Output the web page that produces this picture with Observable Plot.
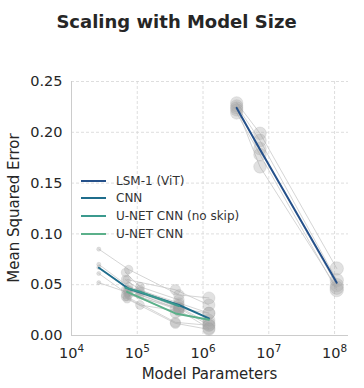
<!DOCTYPE html>
<html>
<head>
<meta charset="utf-8">
<script src="https://cdn.jsdelivr.net/npm/d3@7"></script>
<script src="https://cdn.jsdelivr.net/npm/@observablehq/plot@0.6"></script>
<style>
  body { margin: 0; background: #fff; font-family: "DejaVu Sans", sans-serif; }
  #wrap { position: relative; width: 364px; height: 388px; }
  #title { position: relative; height: 45px; }
  #title span { position: absolute; left: 0; width: 353px; top: 11px; text-align: center;
    font-weight: bold; font-size: 18px; color: #262626; line-height: normal; white-space: nowrap; }
  #legend { position: absolute; left: 81px; top: 0; }
  .row { position: absolute; left: 0; height: 16px; display: flex; align-items: center; white-space: nowrap; }
  .row svg { margin-right: 10px; }
  .row span { font-size: 12px; color: #333; line-height: 16px; }
</style>
</head>
<body>
<div id="wrap">
  <div id="title"><span>Scaling with Model Size</span></div>
  <div id="chart"></div>
  <div id="legend"></div>
</div>
<script>
// ---- data ----
const series = ["LSM-1 (ViT)", "CNN", "U-NET CNN (no skip)", "U-NET CNN"];
const colors = ["#24508a", "#1f6d8c", "#3b9a8e", "#5bb08a"];

const vitParams = [3.25e6, 7.35e6, 1.08e8];
const vitMean = [0.224, 0.183, 0.052];
const vitRuns = [
  [0.229, 0.199, 0.066],
  [0.226, 0.192, 0.0545],
  [0.222, 0.184, 0.0496],
  [0.219, 0.178, 0.0447],
  [0.224, 0.166, 0.047]
];

const cnnParams = [2.6e4, 7.4e4, 4.3e5, 1.23e6];
const cnnMean = [0.0667, 0.046, 0.030, 0.0168];
const cnnRuns = [
  [0.085, 0.065, 0.040, 0.037],
  [0.070, 0.048, 0.032, 0.022],
  [0.067, 0.045, 0.028, 0.012],
  [0.061, 0.040, 0.027, 0.010],
  [0.052, 0.042, 0.025, 0.007]
];

const noSkipParams = [6.6e4, 1.1e5, 4.3e5];
const noSkipMean = [0.047, 0.043, 0.029];
const noSkipRuns = [
  [0.062, 0.048, 0.035],
  [0.055, 0.045, 0.030],
  [0.045, 0.043, 0.027],
  [0.040, 0.040, 0.026],
  [0.038, 0.030, 0.024]
];

const unetParams = [7e4, 3.8e5, 1.23e6];
const unetMean = [0.043, 0.0217, 0.0155];
const unetRuns = [
  [0.055, 0.045, 0.030],
  [0.045, 0.027, 0.022],
  [0.042, 0.022, 0.015],
  [0.038, 0.013, 0.010],
  [0.036, 0.012, 0.006]
];

const xTicks = [1e4, 1e5, 1e6, 1e7, 1e8];
const yTicks = [0, 0.05, 0.10, 0.15, 0.20, 0.25];

// ---- build tables ----
const models = [
  {name: series[0], params: vitParams, mean: vitMean, runs: vitRuns},
  {name: series[1], params: cnnParams, mean: cnnMean, runs: cnnRuns},
  {name: series[2], params: noSkipParams, mean: noSkipMean, runs: noSkipRuns},
  {name: series[3], params: unetParams, mean: unetMean, runs: unetRuns}
];
const runRows = [], meanRows = [];
models.forEach(m => {
  m.runs.forEach((vals, k) => vals.forEach((v, j) =>
    runRows.push({model: m.name, run: m.name + "-" + k, params: m.params[j], mse: v})));
  m.mean.forEach((v, j) => meanRows.push({model: m.name, params: m.params[j], mse: v}));
});

const fmtPow = d => "10^" + Math.round(Math.log10(d));

const gridStyle = {stroke: "#d6d6d6", strokeOpacity: 1, strokeWidth: 0.8, strokeDasharray: "3,2"};

const svg = Plot.plot({
  width: 364,
  height: 343,
  marginTop: 36,
  marginBottom: 53,
  marginLeft: 71,
  marginRight: 16,
  style: {fontFamily: "DejaVu Sans", fontSize: "14.5px", color: "#262626", background: "white"},
  x: {type: "log", domain: [1e4, 1.63e8]},
  y: {domain: [0, 0.25]},
  r: {type: "linear", domain: [4.4, 4.85, 5.5, 6, 8], range: [2, 4.2, 5, 6, 6.7]},
  color: {domain: series, range: colors},
  marks: [
    Plot.gridX(xTicks, gridStyle),
    Plot.gridY(yTicks, gridStyle),
    Plot.ruleX([1e4], {stroke: "#cccccc", strokeWidth: 1}),
    Plot.ruleY([0], {stroke: "#cccccc", strokeWidth: 1}),
    Plot.line(runRows, {x: "params", y: "mse", z: "run", stroke: "#c4c4c4", strokeWidth: 0.8, strokeOpacity: 0.9}),
    Plot.dot(runRows, {x: "params", y: "mse", r: d => Math.log10(d.params),
      fill: "#a3a3a3", fillOpacity: 0.33, stroke: "#999", strokeOpacity: 0.25, strokeWidth: 0.8}),
    Plot.line(meanRows, {x: "params", y: "mse", z: "model", stroke: "model", strokeWidth: 2}),
    Plot.axisX({ticks: xTicks, tickSize: 0, tickPadding: 12, tickFormat: fmtPow, label: null}),
    Plot.axisY({ticks: yTicks, tickSize: 0, tickPadding: 9, tickFormat: d3.format(".2f"), label: null})
  ]
});
document.getElementById("chart").appendChild(svg);

const s = d3.select(svg);
// render x tick labels as 10 with a raised exponent
s.selectAll("text").each(function () {
  const t = d3.select(this);
  const m = /^10\^(\d+)$/.exec(t.text());
  if (!m) return;
  t.text("10");
  t.append("tspan").attr("font-size", "0.72em").attr("dy", "-0.55em").text(m[1]);
});
s.append("text").attr("x", 209.5).attr("y", 333.5).attr("text-anchor", "middle")
  .attr("font-size", 15).attr("fill", "#262626").text("Model Parameters");
s.append("text").attr("transform", "translate(19,163) rotate(-90)").attr("text-anchor", "middle")
  .attr("font-size", 15).attr("fill", "#262626").text("Mean Squared Error");

// legend
const legend = d3.select("#legend");
const rowY = [180.7, 198.4, 216.2, 234];
series.forEach((name, i) => {
  const row = legend.append("div").attr("class", "row").style("top", (rowY[i] - 8) + "px");
  const ls = row.append("svg").attr("width", 25).attr("height", 4);
  ls.append("line").attr("x1", 0).attr("x2", 25).attr("y1", 2).attr("y2", 2)
    .attr("stroke", colors[i]).attr("stroke-width", 2);
  row.append("span").text(name);
});
</script>
</body>
</html>
